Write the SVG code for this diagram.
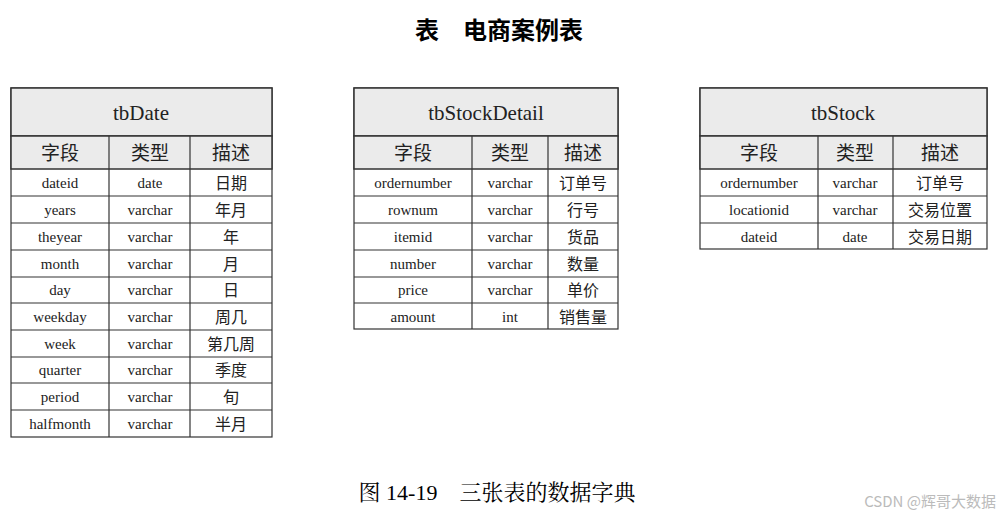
<svg xmlns="http://www.w3.org/2000/svg" width="998" height="520" viewBox="0 0 998 520">
<style>
.t{font-family:"Liberation Serif","Noto Serif CJK SC","Noto Sans CJK SC",serif;fill:#222;text-anchor:middle}
.h{font-size:21px}
.c{font-size:19px;font-family:"Noto Sans CJK SC",sans-serif}
.r{font-size:15px}
.z{font-size:16px;font-family:"Noto Sans CJK SC",sans-serif}
.g{fill:#ebebeb;stroke:#333;stroke-width:1.5}
.w{fill:#fff;stroke:#333;stroke-width:1.2}
line{stroke:#333;stroke-width:1.2}
</style>
<rect width="998" height="520" fill="#fff"/>
<text x="499" y="39" style="font-family:'Noto Sans CJK SC',sans-serif;font-size:24px;font-weight:bold;text-anchor:middle" xml:space="preserve">表　电商案例表</text>
<g id="tbDate">
<rect class="w" x="11" y="88" width="261" height="349"/>
<rect class="g" x="11" y="88" width="261" height="48"/>
<rect class="g" x="11" y="136" width="261" height="33"/>
<line x1="109" y1="136" x2="109" y2="437"/><line x1="190" y1="136" x2="190" y2="437"/>
<line x1="11" y1="196" x2="272" y2="196"/><line x1="11" y1="223" x2="272" y2="223"/><line x1="11" y1="250" x2="272" y2="250"/><line x1="11" y1="277" x2="272" y2="277"/><line x1="11" y1="303" x2="272" y2="303"/><line x1="11" y1="330" x2="272" y2="330"/><line x1="11" y1="357" x2="272" y2="357"/><line x1="11" y1="383" x2="272" y2="383"/><line x1="11" y1="410" x2="272" y2="410"/>
<text class="t h" x="141" y="120">tbDate</text>
<text class="t c" x="60" y="160">字段</text><text class="t c" x="150" y="160">类型</text><text class="t c" x="231" y="160">描述</text>
<g class="t r"><text x="60" y="188">dateid</text><text x="60" y="215">years</text><text x="60" y="242">theyear</text><text x="60" y="269">month</text><text x="60" y="295">day</text><text x="60" y="322">weekday</text><text x="60" y="349">week</text><text x="60" y="375">quarter</text><text x="60" y="402">period</text><text x="60" y="429">halfmonth</text>
<text x="150" y="188">date</text><text x="150" y="215">varchar</text><text x="150" y="242">varchar</text><text x="150" y="269">varchar</text><text x="150" y="295">varchar</text><text x="150" y="322">varchar</text><text x="150" y="349">varchar</text><text x="150" y="375">varchar</text><text x="150" y="402">varchar</text><text x="150" y="429">varchar</text></g>
<g class="t z"><text x="231" y="189">日期</text><text x="231" y="216">年月</text><text x="231" y="243">年</text><text x="231" y="270">月</text><text x="231" y="296">日</text><text x="231" y="323">周几</text><text x="231" y="350">第几周</text><text x="231" y="376">季度</text><text x="231" y="403">旬</text><text x="231" y="430">半月</text></g>
</g>
<g id="tbStockDetail">
<rect class="w" x="354" y="88" width="264" height="241"/>
<rect class="g" x="354" y="88" width="264" height="48"/>
<rect class="g" x="354" y="136" width="264" height="33"/>
<line x1="472" y1="136" x2="472" y2="329"/><line x1="548" y1="136" x2="548" y2="329"/>
<line x1="354" y1="196" x2="618" y2="196"/><line x1="354" y1="223" x2="618" y2="223"/><line x1="354" y1="250" x2="618" y2="250"/><line x1="354" y1="277" x2="618" y2="277"/><line x1="354" y1="303" x2="618" y2="303"/>
<text class="t h" x="486" y="120">tbStockDetail</text>
<text class="t c" x="413" y="160">字段</text><text class="t c" x="510" y="160">类型</text><text class="t c" x="583" y="160">描述</text>
<g class="t r"><text x="413" y="188">ordernumber</text><text x="413" y="215">rownum</text><text x="413" y="242">itemid</text><text x="413" y="269">number</text><text x="413" y="295">price</text><text x="413" y="322">amount</text>
<text x="510" y="188">varchar</text><text x="510" y="215">varchar</text><text x="510" y="242">varchar</text><text x="510" y="269">varchar</text><text x="510" y="295">varchar</text><text x="510" y="322">int</text></g>
<g class="t z"><text x="583" y="189">订单号</text><text x="583" y="216">行号</text><text x="583" y="243">货品</text><text x="583" y="270">数量</text><text x="583" y="296">单价</text><text x="583" y="323">销售量</text></g>
</g>
<g id="tbStock">
<rect class="w" x="700" y="88" width="287" height="161"/>
<rect class="g" x="700" y="88" width="287" height="48"/>
<rect class="g" x="700" y="136" width="287" height="33"/>
<line x1="818" y1="136" x2="818" y2="249"/><line x1="893" y1="136" x2="893" y2="249"/>
<line x1="700" y1="196" x2="987" y2="196"/><line x1="700" y1="223" x2="987" y2="223"/>
<text class="t h" x="843" y="120">tbStock</text>
<text class="t c" x="759" y="160">字段</text><text class="t c" x="855" y="160">类型</text><text class="t c" x="940" y="160">描述</text>
<g class="t r"><text x="759" y="188">ordernumber</text><text x="759" y="215">locationid</text><text x="759" y="242">dateid</text>
<text x="855" y="188">varchar</text><text x="855" y="215">varchar</text><text x="855" y="242">date</text></g>
<g class="t z"><text x="940" y="189">订单号</text><text x="940" y="216">交易位置</text><text x="940" y="243">交易日期</text></g>
</g>
<g id="connectors"/>
<text x="497" y="500" style="font-family:'Liberation Serif','Noto Serif CJK SC','Noto Sans CJK SC',serif;font-size:22px;text-anchor:middle" xml:space="preserve">图 14-19　三张表的数据字典</text>
<text x="996" y="507" style="font-family:'Noto Sans CJK SC',sans-serif;font-size:15px;fill:#bbb;text-anchor:end">CSDN @辉哥大数据</text>
</svg>
